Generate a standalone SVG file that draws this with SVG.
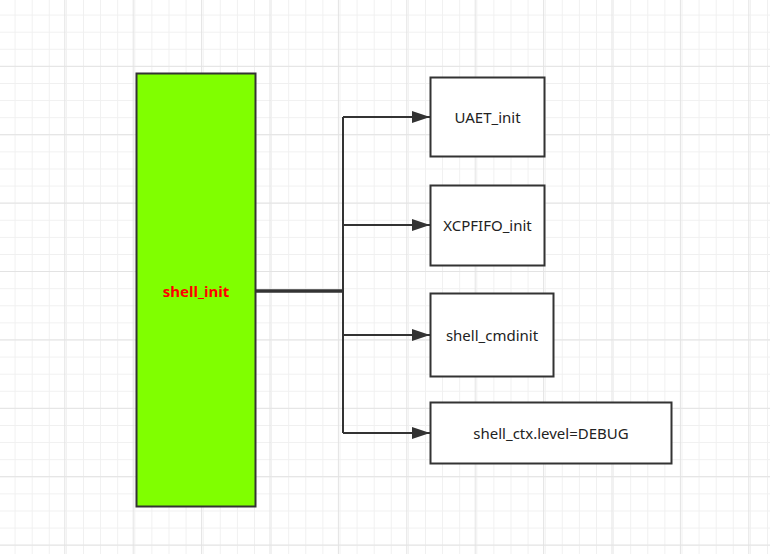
<svg xmlns="http://www.w3.org/2000/svg" width="770" height="554" viewBox="0 0 770 554">
<defs>
<pattern id="minor" patternUnits="userSpaceOnUse" x="14.6" y="14.6" width="17.1" height="17.1">
<path d="M0.5 0V17.1M0 0.5H17.1" fill="none" stroke="#f0f0f0" stroke-width="1"/>
</pattern>
<pattern id="major" patternUnits="userSpaceOnUse" x="64.3" y="65.8" width="68.4" height="68.4">
<path d="M0.5 0V68.4M0 0.5H68.4" fill="none" stroke="#e3e3e3" stroke-width="1"/>
</pattern>
<marker id="arrow" markerUnits="userSpaceOnUse" markerWidth="20" markerHeight="14" refX="18" refY="6" orient="auto">
<path d="M0 0L18 6L0 12Z" fill="#333333"/>
</marker>
<style>
.box{fill:#ffffff;stroke:#333333;stroke-width:2}
.lbl{font-family:"Noto Sans","Open Sans","Liberation Sans",sans-serif;font-size:15px;fill:#222222;text-anchor:middle;dominant-baseline:central}
.conn{fill:none;stroke:#333333;stroke-width:2}
.trunk{fill:none;stroke:#333333;stroke-width:3.5}
</style>
</defs>
<rect width="770" height="554" fill="#ffffff"/>
<rect width="770" height="554" fill="url(#minor)"/>
<rect width="770" height="554" fill="url(#major)"/>
<g id="connectors">
<path class="trunk" d="M256 291H343"/>
<path class="conn" d="M343 117V433"/>
<path class="conn" d="M343 117H430" marker-end="url(#arrow)"/>
<path class="conn" d="M343 225H430" marker-end="url(#arrow)"/>
<path class="conn" d="M343 335H430" marker-end="url(#arrow)"/>
<path class="conn" d="M343 433H430" marker-end="url(#arrow)"/>
</g>
<g id="shell_init">
<rect x="136.5" y="73.5" width="119" height="433" fill="#80ff00" stroke="#333333" stroke-width="2"/>
<text x="196" y="291" class="lbl" style="font-weight:bold;fill:#ff0000">shell_init</text>
</g>
<g id="UAET_init">
<rect class="box" x="430.5" y="77.5" width="114" height="79"/>
<text x="487.5" y="117" class="lbl">UAET_init</text>
</g>
<g id="XCPFIFO_init">
<rect class="box" x="430.5" y="185.5" width="114" height="80"/>
<text x="487.5" y="225" class="lbl">XCPFIFO_init</text>
</g>
<g id="shell_cmdinit">
<rect class="box" x="430.5" y="293.5" width="123" height="83"/>
<text x="492" y="335" class="lbl">shell_cmdinit</text>
</g>
<g id="shell_ctx_level">
<rect class="box" x="430.5" y="402.5" width="241" height="61"/>
<text x="551" y="433" class="lbl">shell_ctx.level=DEBUG</text>
</g>
</svg>
